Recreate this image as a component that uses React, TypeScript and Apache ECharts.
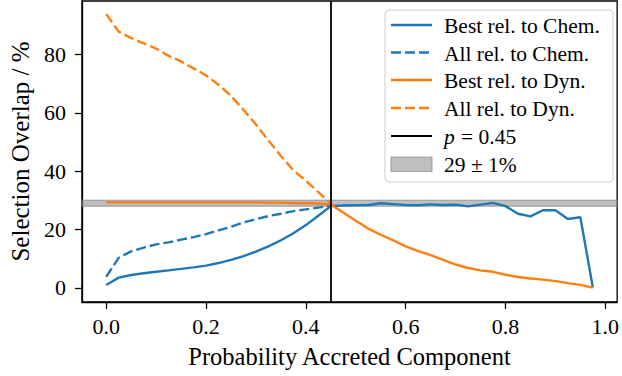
import React, { useEffect, useRef } from "react";
import * as echarts from "echarts";

const probs = [
  0, 0.025, 0.05, 0.075, 0.1, 0.125, 0.15, 0.175, 0.2, 0.225,
  0.25, 0.275, 0.3, 0.325, 0.35, 0.375, 0.4, 0.425, 0.45, 0.475,
  0.5, 0.525, 0.55, 0.575, 0.6, 0.625, 0.65, 0.675, 0.7, 0.725,
  0.75, 0.775, 0.8, 0.825, 0.85, 0.875, 0.9, 0.925, 0.95, 0.975,
];

const bestChem = [
  1.0, 3.5, 4.4, 5.0, 5.5, 6.0, 6.5, 7.0, 7.6, 8.5,
  9.6, 10.9, 12.4, 14.2, 16.3, 18.7, 21.5, 24.7, 28.0, 28.2,
  28.3, 28.4, 29.0, 28.7, 28.4, 28.3, 28.6, 28.4, 28.5, 27.9,
  28.5, 29.1, 28.0, 25.4, 24.5, 26.6, 26.6, 23.6, 24.2, 0.1,
];

const allChem = [
  3.8, 10.3, 12.5, 13.8, 14.9, 15.6, 16.5, 17.4, 18.4, 19.7,
  20.9, 22.4, 23.5, 24.6, 25.4, 26.3, 26.9, 27.5, 28.2,
];

const bestDyn = [
  29.3, 29.3, 29.3, 29.3, 29.3, 29.3, 29.3, 29.3, 29.3, 29.3,
  29.3, 29.3, 29.3, 29.2, 29.2, 29.1, 29.0, 28.9, 28.6, 25.8,
  23.0, 20.3, 18.2, 16.3, 14.2, 12.6, 11.2, 9.6, 8.0, 6.8,
  6.0, 5.5, 4.5, 3.7, 3.2, 2.8, 2.3, 1.6, 1.0, 0.1,
];

const allDyn = [
  93.8, 87.8, 85.6, 83.8, 82.0, 79.5, 77.6, 75.2, 72.8, 69.6,
  65.8, 61.0, 56.0, 50.5, 45.2, 40.3, 36.7, 32.8, 28.8,
];

const pCut = 0.45;
const bandLow = 28;
const bandHigh = 30;

const xTicks = [0, 0.2, 0.4, 0.6, 0.8, 1.0];
const yTicks = [0, 20, 40, 60, 80];

const legendLabels = [
  "Best rel. to Chem.",
  "All rel. to Chem.",
  "Best rel. to Dyn.",
  "All rel. to Dyn.",
  "= 0.45",
  "29 ± 1%",
];

const BLUE = "#1f77b4";
const ORANGE = "#ff7f0e";
const FONT = "Liberation Serif";

const zip = (ys: number[]) => ys.map((y, i) => [probs[i], y]);

export default function App() {
  const ref = useRef<HTMLDivElement>(null);

  useEffect(() => {
    if (!ref.current) return;
    const chart = echarts.init(ref.current, null, { renderer: "svg" });

    const lw = 2.4;
    const dash = [10, 4];

    const rowsY = [25, 52.5, 80, 108, 136, 164];
    const hx0 = 391;
    const hx1 = 432;
    const tx = 444;
    const legendStyles = [
      { color: BLUE, dash: null },
      { color: BLUE, dash: dash },
      { color: ORANGE, dash: null },
      { color: ORANGE, dash: dash },
      { color: "#000", dash: null },
    ];

    const legendEls: any[] = [
      {
        type: "rect",
        shape: { x: 385, y: 10, width: 228, height: 172, r: 4 },
        style: { fill: "rgba(255,255,255,0.8)", stroke: "#cccccc", lineWidth: 1 },
        z: 100,
      },
    ];
    legendStyles.forEach((s, i) => {
      legendEls.push({
        type: "line",
        shape: { x1: hx0, y1: rowsY[i], x2: hx1, y2: rowsY[i] },
        style: {
          stroke: s.color,
          lineWidth: i === 4 ? 1.8 : lw,
          lineDash: s.dash || undefined,
        },
        z: 101,
      });
    });
    legendEls.push({
      type: "rect",
      shape: { x: 391, y: 157, width: 41, height: 14.5 },
      style: {
        fill: "rgba(128,128,128,0.5)",
        stroke: "rgba(128,128,128,0.6)",
        lineWidth: 1.2,
      },
      z: 101,
    });
    legendLabels.forEach((t, i) => {
      legendEls.push({
        type: "text",
        x: i === 4 ? tx + 17 : tx,
        y: rowsY[i] + 1,
        style: {
          text: t,
          fontFamily: FONT,
          fontSize: 21.5,
          fill: "#000",
          verticalAlign: "middle",
        },
        z: 102,
      });
    });
    legendEls.push({
      type: "text",
      x: tx,
      y: rowsY[4] + 1,
      style: {
        text: "p",
        fontFamily: FONT,
        fontStyle: "italic",
        fontSize: 21.5,
        fill: "#000",
        verticalAlign: "middle",
      },
      z: 102,
    });

    const option: any = {
      animation: false,
      backgroundColor: "#fff",
      textStyle: { fontFamily: FONT },
      grid: {
        left: 79,
        top: 1,
        width: 542,
        height: 301,
        show: true,
        borderColor: "#000",
        borderWidth: 1.3,
        backgroundColor: "transparent",
      },
      xAxis: {
        type: "value",
        min: -0.04875,
        max: 1.02375,
        name: "Probability Accreted Component",
        nameLocation: "middle",
        nameGap: 42,
        nameTextStyle: { fontFamily: FONT, fontSize: 24.5, color: "#000" },
        axisLine: { show: true, onZero: false, lineStyle: { color: "#000", width: 1.3 } },
        axisTick: {
          show: true,
          customValues: xTicks,
          length: 7,
          lineStyle: { color: "#000", width: 1.3 },
        },
        axisLabel: {
          customValues: xTicks,
          formatter: (v: number) => v.toFixed(1),
          fontFamily: FONT,
          fontSize: 22,
          color: "#000",
          margin: 13,
        },
        splitLine: { show: false },
      },
      yAxis: {
        type: "value",
        min: -4.85,
        max: 98.3,
        name: "Selection Overlap / %",
        nameLocation: "middle",
        nameGap: 46,
        nameTextStyle: { fontFamily: FONT, fontSize: 25, color: "#000" },
        axisLine: { show: true, onZero: false, lineStyle: { color: "#000", width: 1.3 } },
        axisTick: {
          show: true,
          customValues: yTicks,
          length: 7,
          lineStyle: { color: "#000", width: 1.3 },
        },
        axisLabel: {
          customValues: yTicks,
          formatter: (v: number) => String(Math.round(v)),
          fontFamily: FONT,
          fontSize: 22,
          color: "#000",
          margin: 16,
        },
        splitLine: { show: false },
      },
      series: [
        {
          type: "line",
          name: "band",
          data: [],
          z: 1,
          silent: true,
          markArea: {
            silent: true,
            itemStyle: {
              color: "rgba(128,128,128,0.5)",
              borderColor: "rgba(128,128,128,0.5)",
              borderWidth: 1.5,
            },
            data: [[{ yAxis: bandLow }, { yAxis: bandHigh }]],
          },
        },
        {
          type: "line",
          name: "Best rel. to Chem.",
          data: zip(bestChem),
          showSymbol: false,
          symbol: "none",
          lineStyle: { color: BLUE, width: lw },
          itemStyle: { color: BLUE },
          z: 3,
        },
        {
          type: "line",
          name: "All rel. to Chem.",
          data: zip(allChem),
          showSymbol: false,
          symbol: "none",
          lineStyle: { color: BLUE, width: lw, type: dash },
          itemStyle: { color: BLUE },
          z: 3,
        },
        {
          type: "line",
          name: "Best rel. to Dyn.",
          data: zip(bestDyn),
          showSymbol: false,
          symbol: "none",
          lineStyle: { color: ORANGE, width: lw },
          itemStyle: { color: ORANGE },
          z: 4,
        },
        {
          type: "line",
          name: "All rel. to Dyn.",
          data: zip(allDyn),
          showSymbol: false,
          symbol: "none",
          lineStyle: { color: ORANGE, width: lw, type: dash },
          itemStyle: { color: ORANGE },
          z: 4,
        },
        {
          type: "line",
          name: "p = 0.45",
          data: [],
          z: 6,
          silent: true,
          markLine: {
            silent: true,
            symbol: ["none", "none"],
            label: { show: false },
            lineStyle: { color: "#000", width: 1.8, type: "solid" },
            data: [{ xAxis: pCut }],
          },
        },
      ],
      graphic: { elements: legendEls },
    };

    chart.setOption(option);
    return () => chart.dispose();
  }, []);

  return (
    <div
      ref={ref}
      style={{ position: "absolute", left: 0, top: 0, width: 622, height: 376 }}
    />
  );
}
